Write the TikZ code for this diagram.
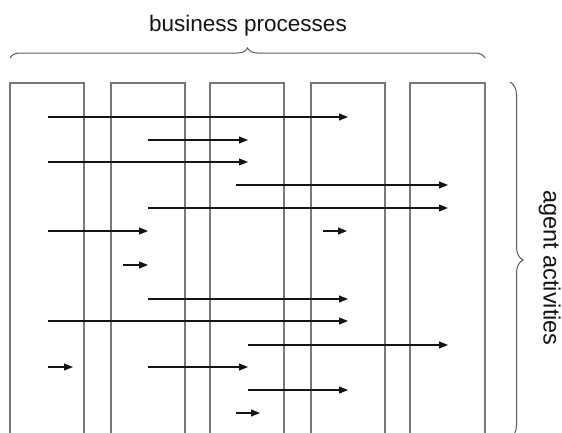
\documentclass[tikz,border=0pt]{standalone}
\usepackage{fontspec}
\setmainfont{Liberation Sans}
\usetikzlibrary{arrows.meta,decorations.pathreplacing}
\definecolor{colgray}{RGB}{120,120,120}
\definecolor{arrblack}{RGB}{20,20,20}
\definecolor{bracegray}{RGB}{90,90,90}
\tikzset{
  colbox/.style={draw=colgray, line width=1.2pt, rectangle, inner sep=0pt, outer sep=0pt, minimum height=370pt, anchor=north west},
  arr/.style={draw=arrblack, line width=1.1pt, -{Triangle[length=9pt,width=7pt]}},
  bracestyle/.style={draw=bracegray, line width=1pt, decorate},
}
\begin{document}
\begin{tikzpicture}[x=1pt,y=-1pt]
\useasboundingbox (0,0) rectangle (562,432);
% columns (business processes)
\node[colbox, minimum width=74pt] (p1) at (10,83) {};
\node[colbox, minimum width=74pt] (p2) at (111,83) {};
\node[colbox, minimum width=74pt] (p3) at (210,83) {};
\node[colbox, minimum width=74pt] (p4) at (311,83) {};
\node[colbox, minimum width=75pt] (p5) at (410,83) {};
% arrows (agent activities)
\foreach \i/\y/\a/\b in {
  1/117/48/348, 2/140/148/248, 3/162/48/248, 4/185/236/448,
  5/208/148/448, 6/231/48/148, 7/231/323/347, 8/265/123/148,
  9/299/148/348, 10/321/48/348, 11/345/248/448, 12/367/48/73,
  13/367/148/248, 14/390/248/348, 15/413/236/260}{
  \coordinate (s\i) at (\a,\y);
  \coordinate (e\i) at (\b,\y);
  \draw[arr] (s\i) -- (e\i);
}
% top brace
\coordinate (tb1) at (10,58);
\coordinate (tb2) at (485,58);
\draw[bracestyle, decoration={brace, amplitude=10pt}] (tb1) -- (tb2);
\node[anchor=base, font=\fontsize{22.5}{27}\selectfont, text=arrblack, inner sep=0pt] (bp) at (248,31) {business processes};
% right brace
\coordinate (rb1) at (510,82);
\coordinate (rb2) at (510,438);
\draw[bracestyle, decoration={brace, amplitude=13pt}] (rb1) -- (rb2);
\node[anchor=base, rotate=-90, font=\fontsize{23.5}{28}\selectfont, text=arrblack, inner sep=0pt] (aa) at (543.5,268) {agent activities};
\end{tikzpicture}
\end{document}
